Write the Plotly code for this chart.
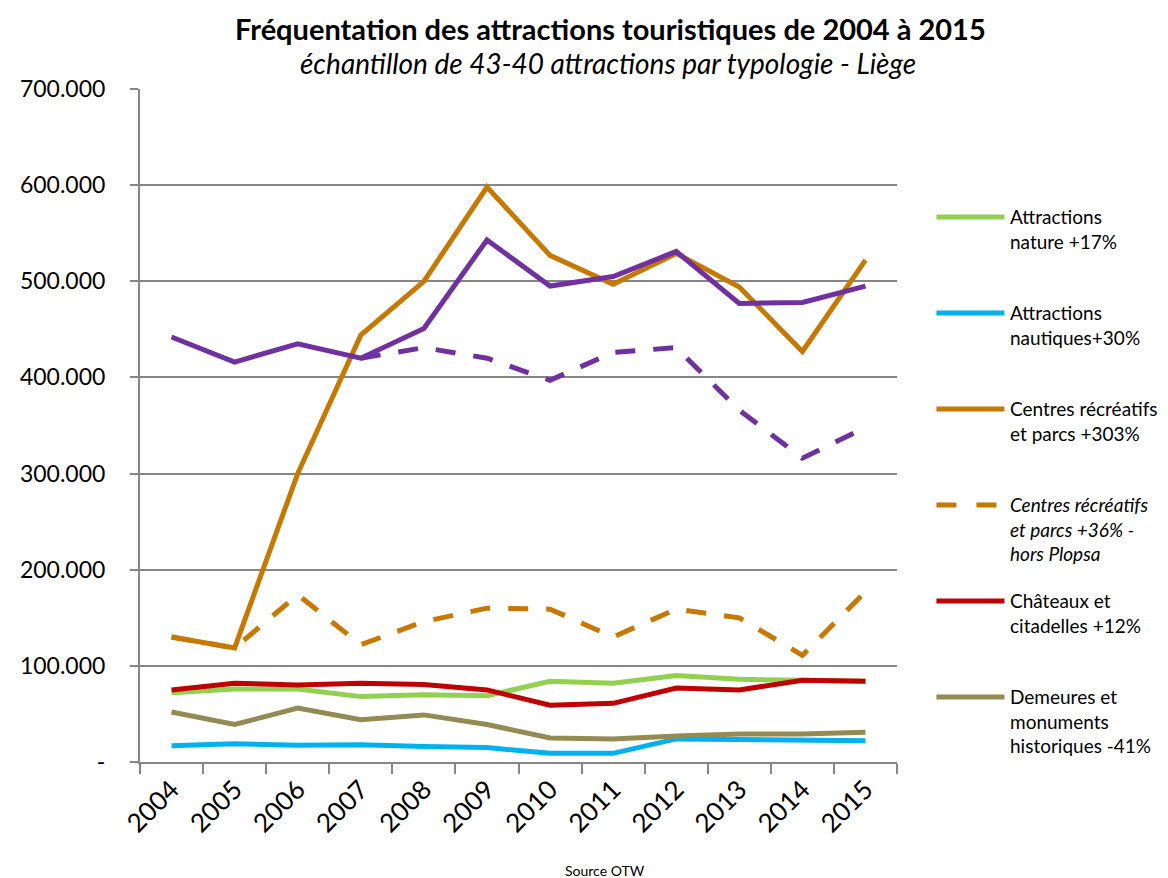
import plotly.graph_objects as go

years = ["2004", "2005", "2006", "2007", "2008", "2009", "2010", "2011", "2012", "2013", "2014", "2015"]

nature = [72000, 76000, 76000, 68000, 70000, 69000, 84000, 82000, 90000, 86000, 85000, 84000]
nautiques = [17000, 19000, 17500, 18000, 16000, 15000, 9000, 9000, 24000, 23000, 22000, 22000]
centres = [130000, 118600, 300000, 444000, 500000, 598000, 527000, 497000, 529000, 494000, 427000, 522000]
centres_hors = [130000, 118600, 174000, 122000, 146000, 160000, 159000, 130000, 159000, 150000, 111000, 177000]
chateaux = [75000, 82000, 80000, 82000, 80500, 75000, 59000, 61000, 77000, 75000, 85000, 84000]
demeures = [52000, 39000, 56000, 44000, 49000, 39000, 25000, 24000, 27000, 29000, 29000, 31000]
total = [442000, 416000, 435000, 420000, 451000, 543000, 495000, 505000, 531000, 477000, 478000, 495000]
total_hors = [None, None, None, 420000, 431000, 420000, 397000, 426000, 431000, 366000, 316000, 348000]

yticks = [0, 100000, 200000, 300000, 400000, 500000, 600000, 700000]
yticklabels = ["-", "100.000", "200.000", "300.000", "400.000", "500.000", "600.000", "700.000"]

legend_names = [
    "Attractions<br>nature +17%",
    "Attractions<br>nautiques+30%",
    "Centres récréatifs<br>et parcs +303%",
    "<i>Centres récréatifs<br>et parcs +36% -<br>hors Plopsa</i>",
    "Châteaux et<br>citadelles +12%",
    "Demeures et<br>monuments<br>historiques -41%",
]
colors = ["#92D050", "#00B0F0", "#C77800", "#C77800", "#C00000", "#948A54"]
dashes = ["solid", "solid", "solid", "20px,18px", "solid", "solid"]
series = [nature, nautiques, centres, centres_hors, chateaux, demeures]
purple = "#7030A0"

FONT = "Lato"
fig = go.Figure()

fig.add_trace(go.Scatter(x=years, y=total_hors, mode="lines", showlegend=False,
                         line=dict(color=purple, width=5, dash="20px,18px")))

draw_order = [0, 1, 5, 4, 3, 2]
for i in draw_order:
    fig.add_trace(go.Scatter(x=years, y=series[i], mode="lines", showlegend=False,
                             line=dict(color=colors[i], width=5, dash=dashes[i])))

fig.add_trace(go.Scatter(x=years, y=total, mode="lines", showlegend=False,
                         line=dict(color=purple, width=5)))

# page has an 8px body margin: compensate
OFF = 8
W, H = 1168 - OFF, 878 - OFF
ml, mt = 129 - OFF, 89 - OFF
mr, mb = 1168 - 897, 878 - 762
pw, ph = W - ml - mr, H - mt - mb


def px_to_paper_x(px):
    return (px - OFF - ml) / pw


def px_to_paper_y(py):
    return (H - mb - (py - OFF)) / ph


legend_y = [217, 313, 409, 505, 601, 697]
for i, name in enumerate(legend_names):
    y = legend_y[i]
    fig.add_shape(type="line", xref="paper", yref="paper",
                  x0=px_to_paper_x(937), x1=px_to_paper_x(1006),
                  y0=px_to_paper_y(y), y1=px_to_paper_y(y),
                  line=dict(color=colors[i], width=5, dash="20px,20px" if dashes[i] != "solid" else "solid"))
    fig.add_annotation(xref="paper", yref="paper", x=px_to_paper_x(1010), y=px_to_paper_y(y - 14),
                       text=name, showarrow=False, xanchor="left", yanchor="top", align="left",
                       font=dict(family=FONT, size=19, color="#000000"))

fig.add_annotation(xref="paper", yref="paper", x=px_to_paper_x(606), y=px_to_paper_y(28),
                   text="<b>Fréquentation des attractions touristiques de 2004 à 2015</b>",
                   showarrow=False, xanchor="center", yanchor="middle",
                   font=dict(family=FONT, size=29, color="#000000"))
fig.add_annotation(xref="paper", yref="paper", x=px_to_paper_x(604), y=px_to_paper_y(63),
                   text="<i>échantillon de 43-40 attractions par typologie - Liège</i>",
                   showarrow=False, xanchor="center", yanchor="middle",
                   font=dict(family=FONT, size=28, color="#000000"))
fig.add_annotation(xref="paper", yref="paper", x=px_to_paper_x(601), y=px_to_paper_y(870),
                   text="Source OTW", showarrow=False, xanchor="center", yanchor="middle",
                   font=dict(family=FONT, size=14, color="#000000"))

fig.update_layout(
    width=W, height=H,
    margin=dict(l=ml, r=mr, t=mt, b=mb),
    paper_bgcolor="white", plot_bgcolor="white",
    showlegend=False,
    font=dict(family=FONT, color="#000000"),
)
fig.update_xaxes(type="category", range=[-0.5, len(years) - 0.5],
                 showline=True, linecolor="#868686", linewidth=2,
                 ticks="outside", ticklen=10, tickcolor="#868686", tickwidth=2,
                 tickson="boundaries", tickangle=-45, showgrid=False,
                 tickfont=dict(family=FONT, size=26, color="#000000"))
fig.update_yaxes(range=[0, 700000], tickvals=yticks, ticktext=yticklabels,
                 showline=True, linecolor="#868686", linewidth=2,
                 ticks="outside", ticklen=8, tickcolor="#868686", tickwidth=2,
                 showgrid=True, gridcolor="#868686", gridwidth=2, zeroline=False,
                 ticklabelstandoff=20,
                 tickfont=dict(family=FONT, size=23, color="#000000"))

fig.write_html("out.html")
